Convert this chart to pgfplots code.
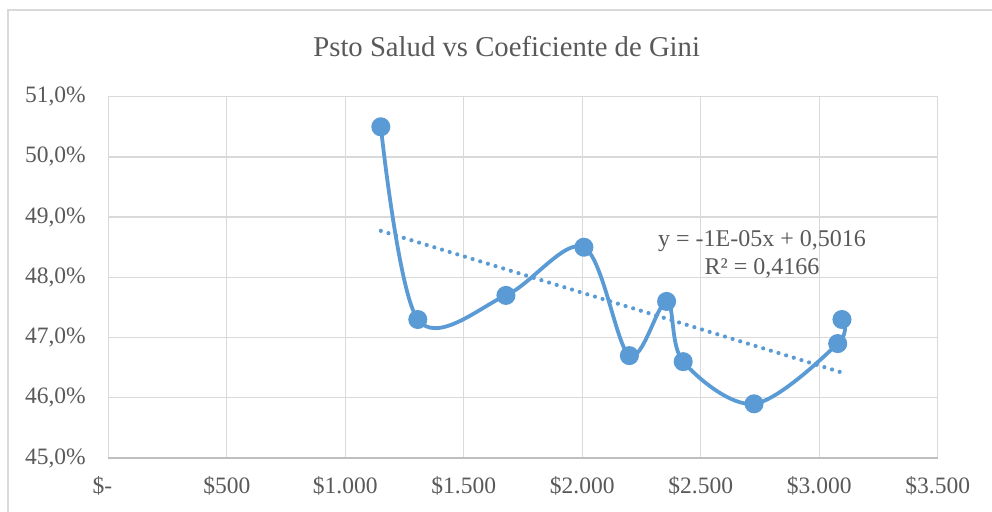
\documentclass[border=0pt]{standalone}
\usepackage{pgfplots}
\usepackage{pgfplotstable}
\pgfplotsset{compat=1.18}
\usepackage{fontspec}
\setmainfont{Liberation Serif}
\definecolor{txt}{HTML}{595959}
\definecolor{ser}{HTML}{5B9BD5}
\definecolor{grd}{HTML}{D9D9D9}
\definecolor{axl}{HTML}{BFBFBF}
\pgfplotstableread{
x y
1150 50.5
1306 47.3
1678 47.7
2007 48.5
2199 46.7
2356 47.6
2426 46.6
2725 45.9
3078 46.9
3096 47.3
}\datatable
\begin{document}
\begin{tikzpicture}
\useasboundingbox (0,0) rectangle (992bp,512bp);
\draw[grd, line width=1.3bp] (8bp,0) -- (8bp,502bp) -- (992bp,502bp);
\node[anchor=base, text=txt, font=\fontsize{28.7bp}{34bp}\selectfont] at (506.7bp,455.3bp) {Psto Salud vs Coeficiente de Gini};
\begin{axis}[
  at={(108.3bp,54bp)}, anchor=south west, scale only axis,
  width=829.4bp, height=361.3bp,
  xmin=0, xmax=3500, ymin=45, ymax=51,
  xtick={0,500,1000,1500,2000,2500,3000,3500},
  ytick={45,46,47,48,49,50,51},
  xticklabels={\$-\hphantom{0}, \$500, \$1.000, \$1.500, \$2.000, \$2.500, \$3.000, \$3.500},
  yticklabels={45{,}0\%, 46{,}0\%, 47{,}0\%, 48{,}0\%, 49{,}0\%, 50{,}0\%, 51{,}0\%},
  grid=major, grid style={draw=grd, line width=1.3bp},
  axis line style={draw=grd, line width=1.3bp},
  major tick length=0pt,
  ticklabel style={text=txt, font=\fontsize{23.5bp}{28bp}\selectfont},
  xticklabel style={anchor=base, yshift=-36bp},
  yticklabel style={anchor=east, xshift=-19bp},
  clip=false,
]
\draw[axl, line width=1.3bp] (axis cs:0,45) -- (axis cs:3500,45);
\addplot[ser, line width=3.8bp, smooth, tension=0.55, mark=*, mark size=7.6bp, mark options={fill=ser, draw=none}] table[x=x, y=y] {\datatable};
\addplot[ser, line width=4.2bp, line cap=round, dash pattern=on 0bp off 8bp] table[x=x, y={create col/linear regression={y=y}}] {\datatable};
\end{axis}
\node[anchor=base, text=txt, font=\fontsize{24bp}{28bp}\selectfont] at (762bp,265.3bp) {y = -1E-05x + 0,5016};
\node[anchor=base, text=txt, font=\fontsize{24bp}{28bp}\selectfont] at (762bp,237bp) {R² = 0,4166};
\end{tikzpicture}
\end{document}
